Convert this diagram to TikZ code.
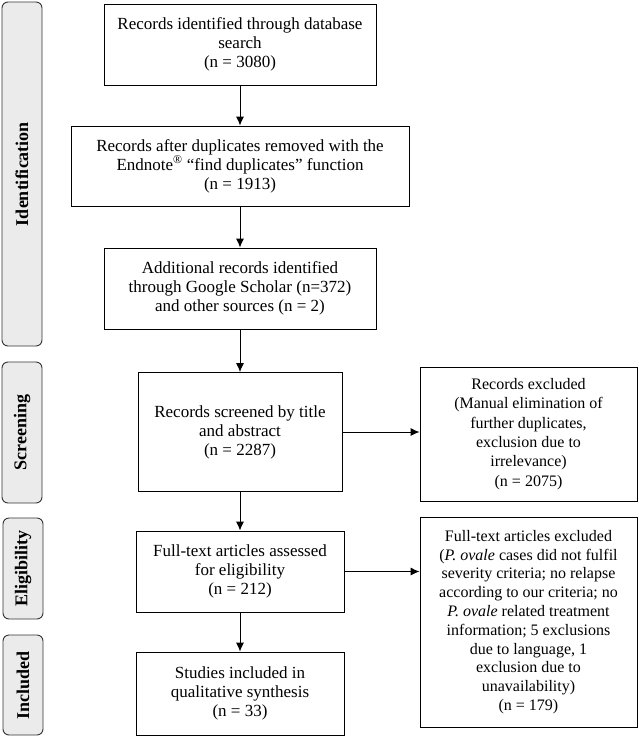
\documentclass[tikz,border=0pt]{standalone}
\usepackage{fontspec}
\setmainfont{Liberation Serif}
\usetikzlibrary{arrows.meta}
\tikzset{
  box/.style={draw=black, line width=0.9pt, align=center, inner sep=2pt,
    font=\fontsize{17}{19}\selectfont},
  rbox/.style={box, font=\fontsize{16}{18.8}\selectfont},
  side/.style={draw=black!80, fill=black!8, rounded corners=6pt, line width=0.9pt,
    rotate=90, inner sep=0pt, font=\fontsize{18}{20}\selectfont\bfseries},
  arr/.style={-{Latex[length=9pt,width=8pt]}, line width=0.9pt}
}
\begin{document}
\begin{tikzpicture}[x=1pt,y=-1pt]
\useasboundingbox (0,0) rectangle (638,737);
% side labels
\node[side, minimum width=344pt, minimum height=40pt] (sid) at (22,174) {Identification};
\node[side, minimum width=141pt, minimum height=40pt] (ssc) at (22,432.5) {Screening};
\node[side, minimum width=101pt, minimum height=40pt] (sel) at (23,568.5) {Eligibility};
\node[side, minimum width=100pt, minimum height=40pt] (sin) at (23,685) {Included};
% boxes
\node[box, minimum width=272pt, minimum height=81pt] (b1) at (240,44.5)
  {Records identified through database\\search\\(n = 3080)};
\node[box, minimum width=338pt, minimum height=80pt] (b2) at (240,166)
  {Records after duplicates removed with the\\Endnote\textsuperscript{®} “find duplicates” function\\(n = 1913)};
\node[box, minimum width=272pt, minimum height=81pt] (b3) at (240,288.5)
  {Additional records identified\\through Google Scholar (n=372)\\and other sources (n = 2)};
\node[box, minimum width=204pt, minimum height=119pt] (b4) at (240,432)
  {Records screened by title\\and abstract\\(n = 2287)};
\node[rbox, font=\fontsize{16}{19.4}\selectfont, minimum width=217pt, minimum height=134pt] (b5) at (528.5,434)
  {Records excluded\\(Manual elimination of\\further duplicates,\\exclusion due to\\irrelevance)\\(n = 2075)};
\node[box, minimum width=208pt, minimum height=81pt] (b6) at (240,571.5)
  {Full-text articles assessed\\for eligibility\\(n = 212)};
\node[rbox, minimum width=217pt, minimum height=210pt] (b7) at (528.5,622)
  {Full-text articles excluded\\(\textit{P. ovale} cases did not fulfil\\severity criteria; no relapse\\according to our criteria; no\\\textit{P. ovale} related treatment\\information; 5 exclusions\\due to language, 1\\exclusion due to\\unavailability)\\(n = 179)};
\node[box, minimum width=208pt, minimum height=83pt] (b8) at (240,693.5)
  {Studies included in\\qualitative synthesis\\(n = 33)};
% arrows
\draw[arr] (b1.south) -- (b2.north);
\draw[arr] (b2.south) -- (b3.north);
\draw[arr] (b3.south) -- (b4.north);
\draw[arr] (b4.south) -- (b6.north);
\draw[arr] (b6.south) -- (b8.north);
\draw[arr] (b4.east) -- (b4.east -| b5.west);
\draw[arr] (b6.east) -- (b6.east -| b7.west);
\end{tikzpicture}
\end{document}
